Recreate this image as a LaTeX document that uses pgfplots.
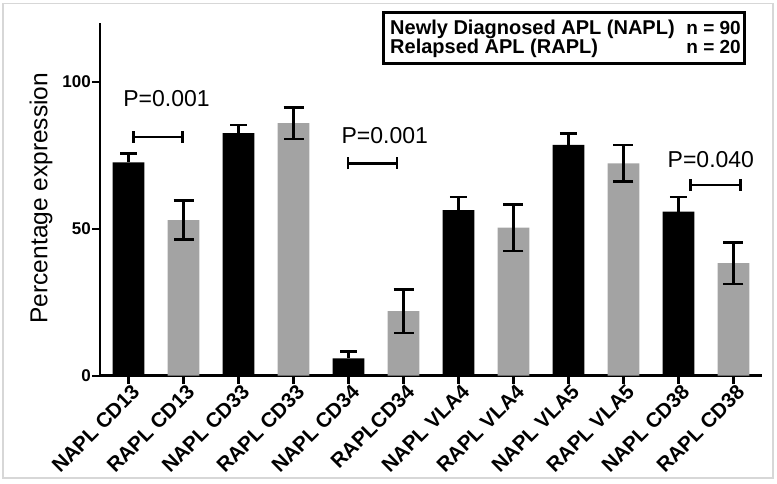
\documentclass[border=0pt]{standalone}
\usepackage{pgfplots}
\pgfplotsset{compat=1.18}
\usepackage{fontspec}
\setmainfont{Liberation Sans}
\usetikzlibrary{arrows.meta}
\definecolor{barGray}{RGB}{163,163,163}
\definecolor{frameGray}{RGB}{215,215,215}
\begin{document}
\begin{tikzpicture}[x=1pt,y=1pt]
\useasboundingbox (0,0) rectangle (777,484);
\draw[frameGray, line width=1.5pt] (3,6) rectangle (773,480.7);
\begin{axis}[
 at={(100pt,108.3pt)}, anchor=south west,
 scale only axis, width=662pt, height=352.4pt,
 xmin=-0.52, xmax=11.52, ymin=0, ymax=120,
 axis x line*=bottom, axis y line*=left,
 axis line style={line width=2.5pt, black},
 xtick={0,...,11},
 xticklabels={NAPL CD13,RAPL CD13,NAPL CD33,RAPL CD33,NAPL CD34,RAPLCD34,NAPL VLA4,RAPL VLA4,NAPL VLA5,RAPL VLA5,NAPL CD38,RAPL CD38},
 ytick={0,50,100},
 tick align=outside, major tick length=8pt,
 tick style={line width=2.2pt, black},
 xticklabel style={rotate=45, anchor=north east, inner sep=1pt, xshift=3pt, font=\fontsize{20.5}{20.5}\selectfont\bfseries},
 yticklabel style={font=\fontsize{17}{17}\selectfont\bfseries, inner sep=1pt},
 /pgf/number format/assume math mode=true,
 ylabel={Percentage expression},
 ylabel style={at={(axis description cs:-0.089,0.504)}, anchor=center, font=\fontsize{24.5}{24.5}\selectfont},
 clip=false,
]
% NAPL (newly diagnosed)
\addplot[ybar, bar width=31.7pt, bar shift=0pt, fill=black, draw=none,
  error bars/.cd, y dir=plus, y explicit,
  error bar style={line width=2.5pt, black},
  error mark options={rotate=90, line width=2.5pt, mark size=8.5pt, black}]
 coordinates {
 (0,72.6) +- (0,3.1)
 (2,82.6) +- (0,2.8)
 (4,5.9) +- (0,2.3)
 (6,56.4) +- (0,4.4)
 (8,78.6) +- (0,3.9)
 (10,55.9) +- (0,5.0)
 };
% RAPL (relapsed)
\addplot[ybar, bar width=31.7pt, bar shift=0pt, fill=barGray, draw=none,
  error bars/.cd, y dir=both, y explicit,
  error bar style={line width=2.5pt, black},
  error mark options={rotate=90, line width=2.5pt, mark size=10pt, black}]
 coordinates {
 (1,53.0) +- (0,6.6)
 (3,86.0) +- (0,5.4)
 (5,22.0) +- (0,7.4)
 (7,50.4) +- (0,7.9)
 (9,72.3) +- (0,6.2)
 (11,38.3) +- (0,7.1)
 };
% significance brackets
\draw[line width=2.5pt, {Bar[width=12pt]}-{Bar[width=12pt]}] (axis cs:0.07,81.3) -- (axis cs:1.0,81.3);
\draw[line width=2.5pt, {Bar[width=12pt]}-{Bar[width=12pt]}] (axis cs:3.97,72.3) -- (axis cs:4.9,72.3);
\draw[line width=2.5pt, {Bar[width=12pt]}-{Bar[width=12pt]}] (axis cs:10.2,64.9) -- (axis cs:11.15,64.9);
\node[font=\fontsize{23}{23}\selectfont] at (axis cs:0.69,94.2) {P=0.001};
\node[font=\fontsize{23}{23}\selectfont] at (axis cs:4.66,81.6) {P=0.001};
\node[font=\fontsize{23}{23}\selectfont] at (axis cs:10.59,73.7) {P=0.040};
\end{axis}
% legend box
\draw[black, line width=3pt] (383,420.7) rectangle (744,471.7);
\node[anchor=base west, inner sep=0pt, font=\fontsize{20}{20}\selectfont\bfseries] at (390,449) {Newly Diagnosed APL (NAPL)};
\node[anchor=base east, inner sep=0pt, font=\fontsize{19}{19}\selectfont\bfseries] at (741,449) {n = 90};
\node[anchor=base west, inner sep=0pt, font=\fontsize{20}{20}\selectfont\bfseries] at (390,430.7) {Relapsed APL (RAPL)};
\node[anchor=base east, inner sep=0pt, font=\fontsize{19}{19}\selectfont\bfseries] at (741,430.7) {n = 20};
\end{tikzpicture}
\end{document}
